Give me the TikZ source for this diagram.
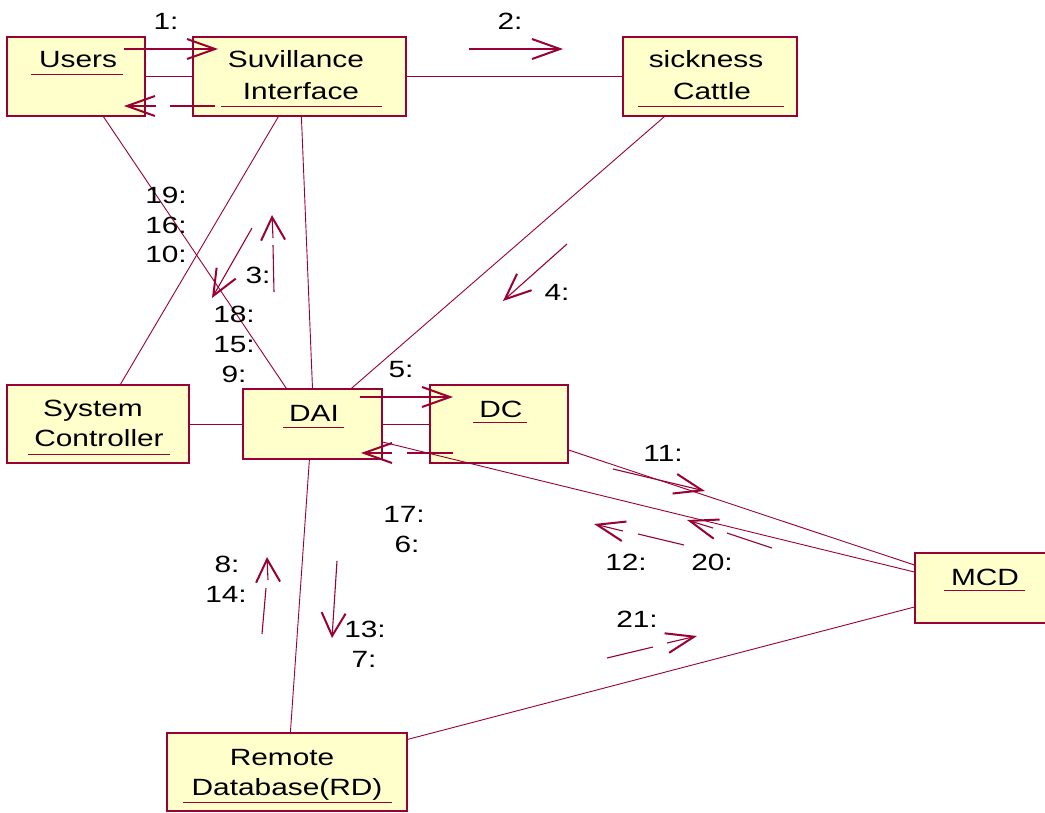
\documentclass[tikz,border=0pt]{standalone}
\usepackage{fontspec}
\setmainfont{Liberation Sans}[FakeStretch=1.27]
\usetikzlibrary{arrows.meta,calc}
\definecolor{rose}{HTML}{990033}
\definecolor{boxfill}{HTML}{FFFFCC}
\begin{document}
\begin{tikzpicture}[x=1pt,y=-1pt,
  every node/.style={font=\fontsize{23.5pt}{30pt}\selectfont},
  box/.style={draw=rose, line width=1.2pt, fill=boxfill, inner sep=0pt},
  lbl/.style={anchor=base, inner sep=0pt, text=black},
  lnk/.style={draw=rose, line width=0.9pt},
  ul/.style={draw=rose, line width=0.9pt},
  msg/.style={draw=rose, line width=1.1pt},
  hh/.style={msg, -{Straight Barb[length=28pt,width=20pt,line width=2pt]}},
  vh/.style={msg, -{Straight Barb[length=23pt,width=24pt,line width=2pt]}},
  dh/.style={msg, -{Straight Barb[length=26pt,width=22pt,line width=2pt]}}]
\useasboundingbox (0,0) rectangle (1045,812);

% ---------- boxes ----------
\node[box, minimum width=138pt, minimum height=79pt] (users)  at (76,76.5) {};
\node[box, minimum width=213pt, minimum height=79pt] (surv)   at (299.5,76.5) {};
\node[box, minimum width=174pt, minimum height=79pt] (cattle) at (710,76.5) {};
\node[box, minimum width=182pt, minimum height=78pt] (sc)     at (98,424) {};
\node[box, minimum width=139pt, minimum height=70pt] (dai)    at (312.5,424) {};
\node[box, minimum width=138pt, minimum height=78pt] (dc)     at (499,424) {};
\node[box, minimum width=140pt, minimum height=70pt] (mcd)    at (985,588) {};
\node[box, minimum width=240pt, minimum height=78pt] (rd)     at (287,772) {};

% ---------- box texts ----------
\node[lbl] at (78,67) {Users};
\draw[ul] (31,74) -- (123,74);
\node[lbl] at (296,67) {Suvillance};
\node[lbl] at (301,99) {Interface};
\draw[ul] (221,106) -- (382,106);
\node[lbl] at (706,67) {sickness};
\node[lbl] at (712,99) {Cattle};
\draw[ul] (638,106) -- (784,106);
\node[lbl] at (93,416) {System};
\node[lbl] at (99,446) {Controller};
\draw[ul] (28,454) -- (170,454);
\node[lbl] at (314,421) {DAI};
\draw[ul] (283,427) -- (344,427);
\node[lbl] at (501,417) {DC};
\draw[ul] (473,422) -- (527,422);
\node[lbl] at (985,585) {MCD};
\draw[ul] (944,590) -- (1025,590);
\node[lbl] at (282,765) {Remote};
\node[lbl] at (287,795) {Database(RD)};
\draw[ul] (183,802) -- (392,802);

% ---------- links ----------
\draw[lnk] (users.east) -- (surv.west);
\draw[lnk] (surv.east) -- (cattle.west);
\draw[lnk] ($(users.south west)+(97,0)$) -- ($(dai.north west)+(44,0)$);
\draw[lnk] ($(surv.south west)+(86,0)$) -- ($(sc.north west)+(114,0)$);
\draw[lnk] ($(surv.south west)+(109,0)$) -- (dai.north);
\draw[lnk] ($(cattle.south west)+(42,0)$) -- ($(dai.north west)+(109,0)$);
\draw[lnk] (sc.east) -- (dai.west);
\draw[lnk] (dai.east) -- (dc.west);
\draw[lnk] ($(dc.east)+(0,26)$) -- ($(mcd.west)+(0,-23)$);
\draw[lnk] ($(dai.east)+(0,18)$) -- ($(mcd.west)+(0,-16)$);
\draw[lnk] ($(dai.south west)+(67,0)$) -- ($(rd.north west)+(124,0)$);
\draw[lnk] ($(rd.north east)+(0,7)$) -- ($(mcd.west)+(0,19)$);

% ---------- messages ----------
\draw[hh] (124,49) -- (218,49);
\node[lbl] at (166,29.5) {1:};
\draw[msg] (215,106) -- (170,106);
\draw[hh] (156,106) -- (124,106);
\draw[hh] (469,49) -- (563,49);
\node[lbl] at (510,29.5) {2:};

\draw[msg] (274,292) -- (273,245);
\draw[vh] (273,238) -- (272,215);
\node[lbl] at (258,283) {3:};

\draw[dh] (252,228) -- (212,298);
\node[lbl] at (166,203) {19:};
\node[lbl] at (166,233) {16:};
\node[lbl] at (166,262) {10:};
\node[lbl] at (234,322) {18:};
\node[lbl] at (234,352) {15:};
\node[lbl] at (234,382) {9:};

\draw[dh] (567,244) -- (503,301);
\node[lbl] at (557,300) {4:};

\draw[hh] (360,397) -- (453,397);
\node[lbl] at (401,377) {5:};
\draw[msg] (453,453) -- (407,453);
\draw[hh] (392,453) -- (361,453);

\draw[hh] (613,469) -- (705,491);
\node[lbl] at (663,461) {11:};

\draw[msg] (684,545) -- (638,534);
\draw[hh] (623,531) -- (594,524);
\node[lbl] at (626,570) {12:};

\draw[msg] (772,548) -- (727,533);
\draw[hh] (713,528) -- (687,520);
\node[lbl] at (712,570) {20:};

\draw[vh] (337,561) -- (332,638);
\node[lbl] at (404,522) {17:};
\node[lbl] at (407,552) {6:};
\node[lbl] at (365,637) {13:};
\node[lbl] at (364,667) {7:};

\draw[msg] (262,634) -- (266,588);
\draw[vh] (268,580) -- (267,557);
\node[lbl] at (227,572) {8:};
\node[lbl] at (226,602) {14:};

\draw[msg] (607,658) -- (653,647);
\draw[hh] (667,643) -- (697,636);
\node[lbl] at (637,627) {21:};
\end{tikzpicture}
\end{document}
